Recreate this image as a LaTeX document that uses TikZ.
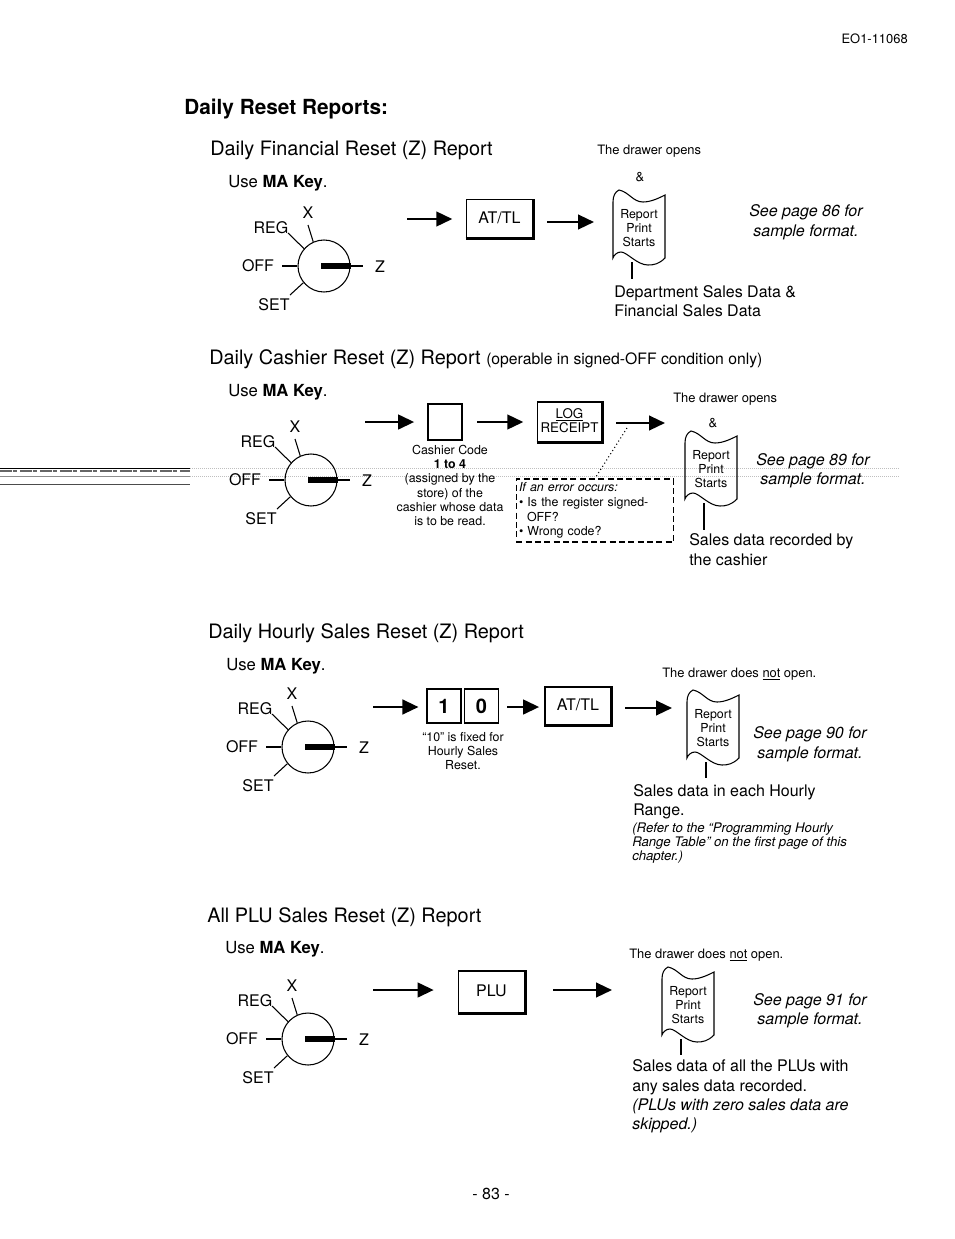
\documentclass[tikz,border=0pt]{standalone}
\usepackage{fontspec}
\setmainfont{TeX Gyre Heros}
\usepackage{xcolor}
\usetikzlibrary{arrows.meta, positioning}
\tikzset{
    flow/.style = {-{Triangle[length=12pt,width=11pt]}, line width=1.7pt},
    head/.style = {anchor=west, inner sep=0pt, yshift=-1.5pt, font=\fontsize{14.9}{17}\selectfont},
    body/.style = {anchor=west, inner sep=0pt, align=left, font=\fontsize{12}{14.6}\selectfont},
    use/.style = {anchor=west, inner sep=0pt, yshift=-1pt, font=\fontsize{12.5}{15}\selectfont},
    note/.style = {anchor=west, inner sep=0pt, yshift=-1pt, font=\fontsize{9.7}{12}\selectfont},
    small/.style = {inner sep=0pt, align=center, font=\fontsize{9.3}{10.6}\selectfont},
    seepage/.style = {inner sep=0pt, align=center, yshift=-1pt, font=\itshape\fontsize{12}{14.8}\selectfont},
    refer/.style = {anchor=west, inner sep=0pt, align=left, font=\itshape\fontsize{9.9}{10.5}\selectfont},
    dial/.style = {circle, draw, line width=0.8pt, minimum size=39pt, inner sep=0pt},
    dialtext/.style = {inner sep=0pt, yshift=-0.7pt, font=\fontsize{12}{14}\selectfont},
    keybox/.style = {draw, line width=0.8pt, inner sep=0pt, text depth=2pt, font=\fontsize{12}{14}\selectfont},
    digit/.style = {keybox, minimum width=25.5pt, minimum height=25.5pt, text depth=0pt, font=\bfseries\fontsize{15}{17}\selectfont},
    scanline/.style = {line width=0.5pt, black!25, densely dotted}
    }
% key switch with its five positions
\newcommand{\keyswitch}[3]{
  \begin{scope}[shift={(#2,#3)}]
    \node[dial] (#1) at (0,0) {};
    \node[dialtext] (#1x) at (-16,-54) {X};
    \node[dialtext] (#1reg) at (-53,-39) {REG};
    \node[dialtext] (#1off) at (-66,-1) {OFF};
    \node[dialtext] (#1set) at (-50,38) {SET};
    \node[dialtext] (#1z) at (56,0) {Z};
    \coordinate (#1xt) at (-16,-41);
    \coordinate (#1regt) at (-36,-33);
    \coordinate (#1offt) at (-42,0);
    \coordinate (#1sett) at (-34,29);
    \coordinate (#1tip) at (39,0);
    \coordinate (#1hub) at (-3,0);
    \path (#1.114) edge[line width=0.8pt] (#1xt);
    \path (#1.139) edge[line width=0.8pt] (#1regt);
    \path (#1.180) edge[line width=0.8pt] (#1offt);
    \path (#1.219) edge[line width=0.8pt] (#1sett);
    \path (#1.east) edge[line width=0.8pt] (#1tip);
    \path (#1hub) edge[line width=5pt] (#1.east);
  \end{scope}
}
% printed slip, #4 = length of the stem below it
\newcommand{\reportdoc}[4]{
  \begin{scope}[shift={(#2,#3)}]
    \node[small] (#1) at (0,0) {Report\\Print\\Starts};
    \draw[line width=0.8pt] (-26,-26) .. controls (-26,-32) and (-24,-36) .. (-20,-38)
      .. controls (-10,-36) and (-6,-26) .. (4,-26)
      .. controls (12,-26) and (20,-30) .. (26,-33) -- (26,30)
      .. controls (20,36) and (15,37) .. (9,37)
      .. controls (-2,37) and (-12,24) .. (-18,24)
      .. controls (-22,24) and (-25,27) .. (-26,30) -- cycle;
    \coordinate (#1stem) at (-7,34);
    \coordinate (#1foot) at (-7,#4);
    \path (#1stem) edge[line width=0.8pt] (#1foot);
  \end{scope}
}
\newcommand{\keyshade}[1]{
  \draw[line width=2.2pt] (#1.south west) -- (#1.south east) -- (#1.north east);
}

\begin{document}
\begin{tikzpicture}[x=0.75pt, y=-0.75pt]
    \useasboundingbox (0,0) rectangle (954,1239);

    % scan streak behind the second block
    \coordinate (streakA) at (0,468);
    \coordinate (streakB) at (190,468);
    \coordinate (streakC) at (0,471);
    \coordinate (streakD) at (190,471);
    \coordinate (streakE) at (0,476);
    \coordinate (streakF) at (190,476);
    \coordinate (streakG) at (0,484);
    \coordinate (streakH) at (190,484);
    \coordinate (streakI) at (900,468);
    \coordinate (streakJ) at (900,476);
    \path (streakA) edge[line width=0.6pt] (streakB);
    \path (streakC) edge[line width=0.8pt, black!60, dash pattern=on 9pt off 1pt on 3pt off 2pt] (streakD);
    \path (streakE) edge[line width=0.6pt, black!45] (streakF);
    \path (streakG) edge[line width=0.4pt, black!70] (streakH);
    \path (streakB) edge[scanline] (streakI);
    \path (streakF) edge[scanline] (streakJ);

    \node[note, anchor=east] (docno) at (908,37) {EO1-11068};
    \node[head, font=\bfseries\fontsize{15.6}{18}\selectfont] (title) at (184,107) {Daily Reset Reports:};

    % financial report
    \node[head] (finhead) at (210,148) {Daily Financial Reset (Z) Report};
    \node[use] (finuse) at (228,182) {Use \textbf{MA Key}.};
    \node[note] (findrawer) at (597,150) {The drawer opens};
    \node[note, anchor=center] (finamp) at (640,176) {\&};
    \keyswitch{sw1}{324}{266}
    \node[keybox, minimum width=50pt, minimum height=29pt] (attl1) at (499.5,218.5) {AT/TL};
    \keyshade{attl1}
    \coordinate (fin1) at (407,219);
    \coordinate (fin2) at (547,222);
    \draw[flow, shorten >=10pt] (fin1) -- (fin1 -| attl1.west);
    \draw[flow] (fin2) -- (594,222);
    \reportdoc{rep1}{639}{228}{51}
    \node[seepage] (see1) at (806,221) {See page 86 for\\sample format.};
    \node[body] (findata) at (614,301) {Department Sales Data \&\\Financial Sales Data};

    % cashier report
    \node[head] (cashead) at (209,357) {Daily Cashier Reset (Z) Report {\fontsize{11.8}{13}\selectfont (operable in signed-OFF condition only)}};
    \node[use] (casuse) at (228,391) {Use \textbf{MA Key}.};
    \node[note] (casdrawer) at (673,398) {The drawer opens};
    \node[note, anchor=center] (casamp) at (713,422) {\&};
    \keyswitch{sw2}{311}{480}
    \node[keybox, minimum width=25.5pt, minimum height=27pt] (code) at (445,422) {};
    \node[keybox, minimum width=48.5pt, minimum height=30pt, align=center, font=\fontsize{10}{10.5}\selectfont] (logr) at (569.5,422) {\underline{LOG}\\RECEIPT};
    \keyshade{logr}
    \coordinate (cas1) at (365,422);
    \coordinate (cas2) at (477,422);
    \coordinate (cas3) at (616,423);
    \draw[flow, shorten >=10pt] (cas1) -- (cas1 -| code.west);
    \draw[flow, shorten >=10pt] (cas2) -- (cas2 -| logr.west);
    \draw[flow] (cas3) -- (665,423);
    \node[small] (codetext) at (450,485.5) {Cashier Code\\\textbf{1 to 4}\\(assigned by the\\store) of the\\cashier whose data\\is to be read.};
    \node[draw, dash pattern=on 4.5pt off 2.5pt, line width=1.1pt, text width=114pt, minimum height=47pt, inner sep=2pt, align=left, font=\fontsize{9.3}{11}\selectfont] (errbox) at (595,510.5)
      {\textit{If an error occurs:}\\• Is the register signed-\\\hspace*{6pt}OFF?\\• Wrong code?};
    \coordinate (errlead) at (627,428);
    \draw[dotted, line width=0.8pt] (errlead) -- (errbox.north);
    \reportdoc{rep2}{711}{469}{61}
    \node[seepage] (see2) at (813,469.5) {See page 89 for\\sample format.};
    \node[body] (casdata) at (689,549.5) {Sales data recorded by\\the cashier};

    % hourly report
    \node[head] (hourhead) at (208,631) {Daily Hourly Sales Reset (Z) Report};
    \node[use] (houruse) at (226,665) {Use \textbf{MA Key}.};
    \node[note] (hourdrawer) at (662,673) {The drawer does \underline{not} open.};
    \keyswitch{sw3}{308}{747}
    \node[digit] (one) at (444,706) {1};
    \node[digit] (zero) at (481.5,706) {0};
    \node[keybox, minimum width=49.5pt, minimum height=28.5pt] (attl3) at (578,706) {AT/TL};
    \keyshade{attl3}
    \coordinate (hour1) at (373,707);
    \coordinate (hour2) at (507,707);
    \coordinate (hour3) at (625,708);
    \draw[flow, shorten >=6pt] (hour1) -- (hour1 -| one.west);
    \draw[flow, shorten >=4pt] (hour2) -- (hour2 -| attl3.west);
    \draw[flow] (hour3) -- (672,708);
    \node[small] (tentext) at (463,751) {``10'' is fixed for\\Hourly Sales\\Reset.};
    \reportdoc{rep3}{713}{728}{50}
    \node[seepage] (see3) at (810,743) {See page 90 for\\sample format.};
    \node[body] (hourdata) at (633,802) {Sales data in each Hourly\\Range.};
    \node[refer] (hourref) at (632,843) {(Refer to the ``Programming Hourly\\Range Table'' on the first page of this\\chapter.)};

    % PLU report
    \node[head] (pluhead) at (207,915) {All PLU Sales Reset (Z) Report};
    \node[use] (pluuse) at (225,948) {Use \textbf{MA Key}.};
    \node[note] (pludrawer) at (629,954) {The drawer does \underline{not} open.};
    \keyswitch{sw4}{308}{1039}
    \node[keybox, minimum width=50pt, minimum height=31.5pt] (plu) at (491.5,992) {PLU};
    \keyshade{plu}
    \coordinate (plu1) at (373,990);
    \coordinate (plu2) at (553,990);
    \draw[flow, shorten >=18pt] (plu1) -- (plu1 -| plu.west);
    \draw[flow] (plu2) -- (612,990);
    \reportdoc{rep4}{688}{1005}{50}
    \node[seepage] (see4) at (810,1009.5) {See page 91 for\\sample format.};
    \node[body] (pludata) at (632,1096.5) {Sales data of all the PLUs with\\any sales data recorded.\\\textit{(PLUs with zero sales data are}\\\textit{skipped.)}};

    \node[body, anchor=center] (pageno) at (491,1194) {- 83 -};
\end{tikzpicture}
\end{document}
